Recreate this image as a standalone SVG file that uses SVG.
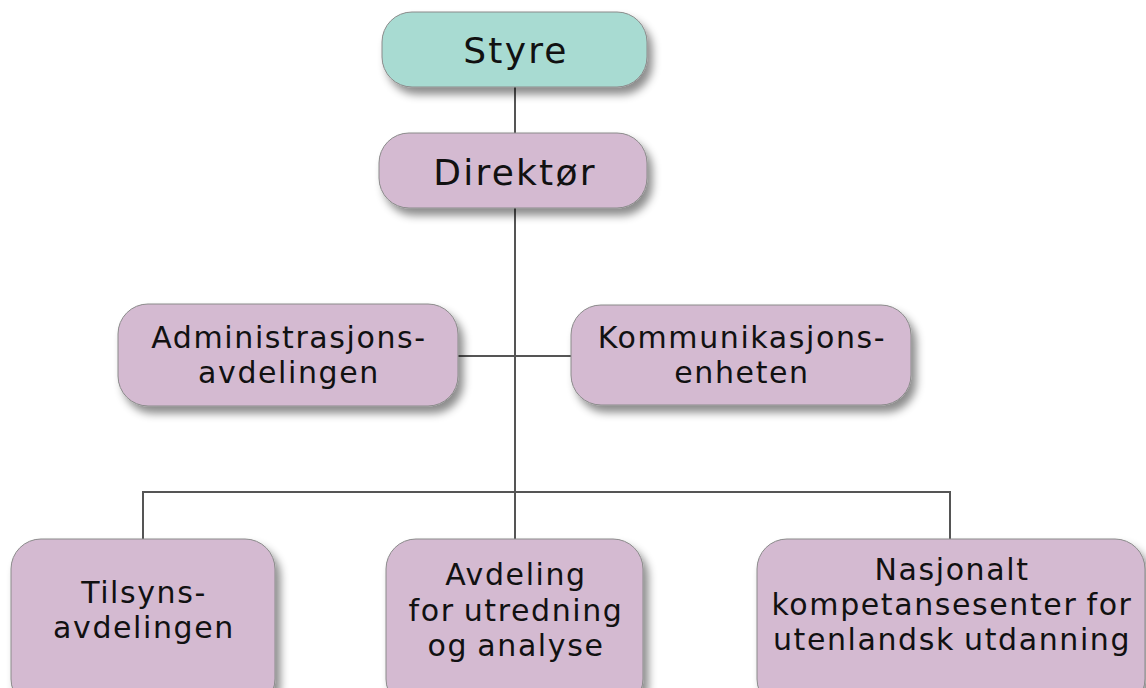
<svg xmlns="http://www.w3.org/2000/svg" width="1146" height="688" viewBox="0 0 1146 688">
<defs>
<filter id="sh" x="-10%" y="-10%" width="130%" height="140%">
<feDropShadow dx="5" dy="7" stdDeviation="4" flood-color="#000" flood-opacity="0.45"/>
</filter>
<style>
.box{fill:#d4bad1;stroke:#8a8a8a;stroke-width:1;filter:url(#sh)}
.teal{fill:#a8dbd2}
.lbl{font-family:"DejaVu Sans","Verdana",sans-serif;font-size:30px;letter-spacing:1.6px;word-spacing:-2px;fill:#111;text-anchor:middle}
.big{font-size:36px;letter-spacing:2.2px}
.ln{stroke:#555;stroke-width:2;fill:none}
</style>
</defs>
<rect width="1146" height="688" fill="#fff"/>
<g id="connectors">
<line class="ln" x1="515" y1="87" x2="515" y2="133"/>
<line class="ln" x1="515" y1="208" x2="515" y2="492"/>
<line class="ln" x1="458" y1="356" x2="571" y2="356"/>
<polyline class="ln" points="143,539 143,492 950,492 950,539"/>
<line class="ln" x1="515" y1="492" x2="515" y2="539"/>
</g>
<g id="styre">
<rect class="box teal" x="382" y="12" width="265" height="75" rx="30"/>
<text class="lbl big" x="516" y="63">Styre</text>
</g>
<g id="direktor">
<rect class="box" x="379" y="133" width="268" height="75" rx="30"/>
<text class="lbl big" x="515" y="185">Direktør</text>
</g>
<g id="administrasjon">
<rect class="box" x="118" y="304" width="340" height="102" rx="30"/>
<text class="lbl" x="289" y="348">Administrasjons-</text>
<text class="lbl" x="289" y="383">avdelingen</text>
</g>
<g id="kommunikasjon">
<rect class="box" x="571" y="305" width="340" height="100" rx="30"/>
<text class="lbl" x="742" y="348">Kommunikasjons-</text>
<text class="lbl" x="742" y="383">enheten</text>
</g>
<g id="tilsyn">
<rect class="box" x="11" y="539" width="264" height="170" rx="30"/>
<text class="lbl" x="144" y="603">Tilsyns-</text>
<text class="lbl" x="144" y="638">avdelingen</text>
</g>
<g id="utredning">
<rect class="box" x="386" y="539" width="257" height="170" rx="30"/>
<text class="lbl" x="516" y="585">Avdeling</text>
<text class="lbl" x="516" y="621">for utredning</text>
<text class="lbl" x="516" y="656">og analyse</text>
</g>
<g id="nokut">
<rect class="box" x="757" y="539" width="388" height="170" rx="30"/>
<text class="lbl" x="952" y="580">Nasjonalt</text>
<text class="lbl" x="952" y="615">kompetansesenter for</text>
<text class="lbl" x="952" y="650">utenlandsk utdanning</text>
</g>
</svg>
